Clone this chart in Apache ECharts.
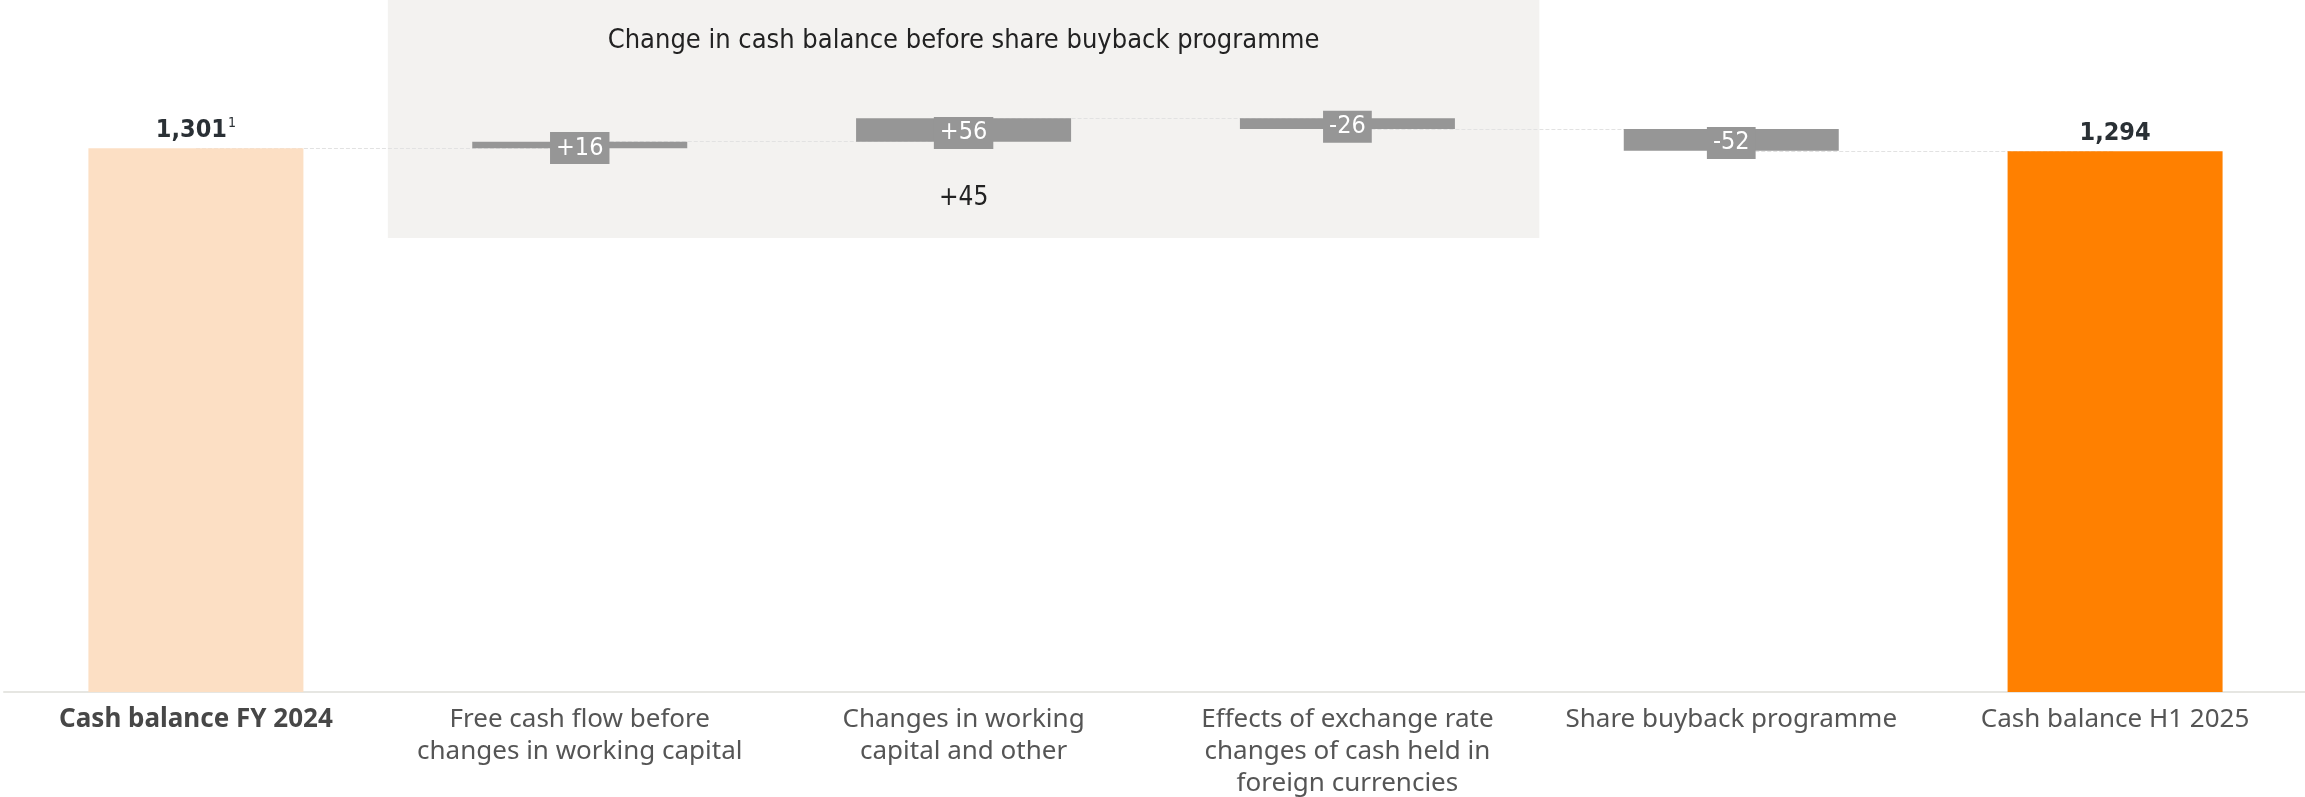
<!DOCTYPE html>
<html>
<head>
<meta charset="utf-8">
<script src="https://cdn.jsdelivr.net/npm/echarts@6/dist/echarts.min.js"></script>
<style>
  html,body{margin:0;padding:0;background:#fff;}
  #main{width:2305px;height:797px;}
</style>
</head>
<body>
<div id="main"></div>
<script>
// categories (tick labels)
var categories=['Cash balance FY 2024','Free cash flow before\nchanges in working capital','Changes in working\ncapital and other','Effects of exchange rate\nchanges of cash held in\nforeign currencies','Share buyback programme','Cash balance H1 2025'];
// totals and deltas
var totals=[1301,'-','-','-','-',1294];
var totalLabels=['1,301','','','','','1,294'];
var footnotes=['1','','','','',''];
var deltas=['-',16,56,-26,-52,'-'];
var boxTitle='Change in cash balance before share buyback programme';
var boxSum='+45';

var chart=echarts.init(document.getElementById('main'));

// waterfall: invisible base + visible step
var base=[],step=[],levels=[];
var run=0;
for(let i=0;i<categories.length;i++){
  if(totals[i]!=='-'){
    base.push('-');step.push('-');
    run=totals[i];
  }else{
    var d=deltas[i];
    if(d>=0){base.push(run);}else{base.push(run+d);}
    step.push(Math.abs(d));
    run=run+d;
  }
  levels.push(run);
}
// connectors between neighbour bars
var connectors=[];
for(let i=0;i<categories.length-1;i++){
  connectors.push([{coord:[i,levels[i]]},{coord:[i+1,levels[i]]}]);
}

var numFont='"DejaVu Sans Condensed", "Liberation Sans", sans-serif';
var textFont='"Noto Sans", sans-serif';

chart.setOption({
  animation:false,
  grid:{left:4,right:-2,top:0,bottom:105,outerBoundsMode:'none'},
  xAxis:{
    type:'category',
    data:categories,
    axisTick:{show:false},
    axisLine:{lineStyle:{color:'#e6e6e2',width:2}},
    axisLabel:{
      interval:0,
      margin:12,
      fontFamily:textFont,
      fontSize:26,
      lineHeight:32,
      color:'#555',
      formatter:function(v,i){
        return i==0?'{b|'+v+'}':v;
      },
      rich:{b:{fontFamily:textFont,fontSize:26,fontWeight:'bold',color:'#474747',lineHeight:32}}
    }
  },
  yAxis:{type:'value',min:0,max:1656,show:false,splitLine:{show:false}},
  series:[
    {
      type:'line',
      data:[],
      silent:true,
      z:0,
      markLine:{
        silent:true,
        z:0,
        symbol:'none',
        label:{show:false},
        lineStyle:{color:'#e2e2e2',type:'dashed',width:1},
        data:connectors
      }
    },
    {
      type:'bar',
      stack:'w',
      barWidth:215,
      itemStyle:{color:'transparent'},
      data:base,
      silent:true
    },
    {
      type:'bar',
      stack:'w',
      barWidth:215,
      itemStyle:{color:'#969696'},
      data:step,
      label:{
        show:true,
        position:'inside',
        offset:[0,3],
        fontFamily:numFont,
        fontSize:25,
        color:'#fff',
        backgroundColor:'#969696',
        padding:[4,6,3,6],
        formatter:function(p){
          var d=deltas[p.dataIndex];
          return (d>0?'+':'')+d;
        }
      }
    },
    {
      type:'bar',
      stack:'w',
      barWidth:215,
      data:totals.map(function(v,i){
        return {value:v,itemStyle:{color:i==0?'#fcdfc4':'#ff8000'}};
      }),
      label:{
        show:true,
        position:'top',
        distance:4,
        formatter:function(p){
          var s='{v|'+totalLabels[p.dataIndex]+'}';
          if(footnotes[p.dataIndex]) s+='{s|'+footnotes[p.dataIndex]+'}';
          return s;
        },
        rich:{
          v:{fontFamily:numFont,fontSize:25,fontWeight:'bold',color:'#2a3035',lineHeight:28},
          s:{fontFamily:numFont,fontSize:14,color:'#2a3035',verticalAlign:'top',lineHeight:28,padding:[0,0,12,1]}
        }
      }
    }
  ]
});

// shaded box behind the three pre-buyback steps
var c0=chart.convertToPixel({xAxisIndex:0},0);
var c1=chart.convertToPixel({xAxisIndex:0},1);
var c2=chart.convertToPixel({xAxisIndex:0},2);
var c3=chart.convertToPixel({xAxisIndex:0},3);
var band=c1-c0;
var boxL=c1-band/2,boxR=c3+band/2;
chart.setOption({
  graphic:[
    {type:'rect',z:-10,shape:{x:boxL,y:0,width:boxR-boxL,height:238},style:{fill:'#f3f2f0'}},
    {type:'text',z:-5,x:(boxL+boxR)/2,y:41,style:{text:boxTitle,fontFamily:numFont,fontSize:27,fill:'#222',align:'center',verticalAlign:'middle'}},
    {type:'text',z:-5,x:c2,y:198,style:{text:boxSum,fontFamily:numFont,fontSize:26,fill:'#222',align:'center',verticalAlign:'middle'}}
  ]
});
</script>
</body>
</html>
